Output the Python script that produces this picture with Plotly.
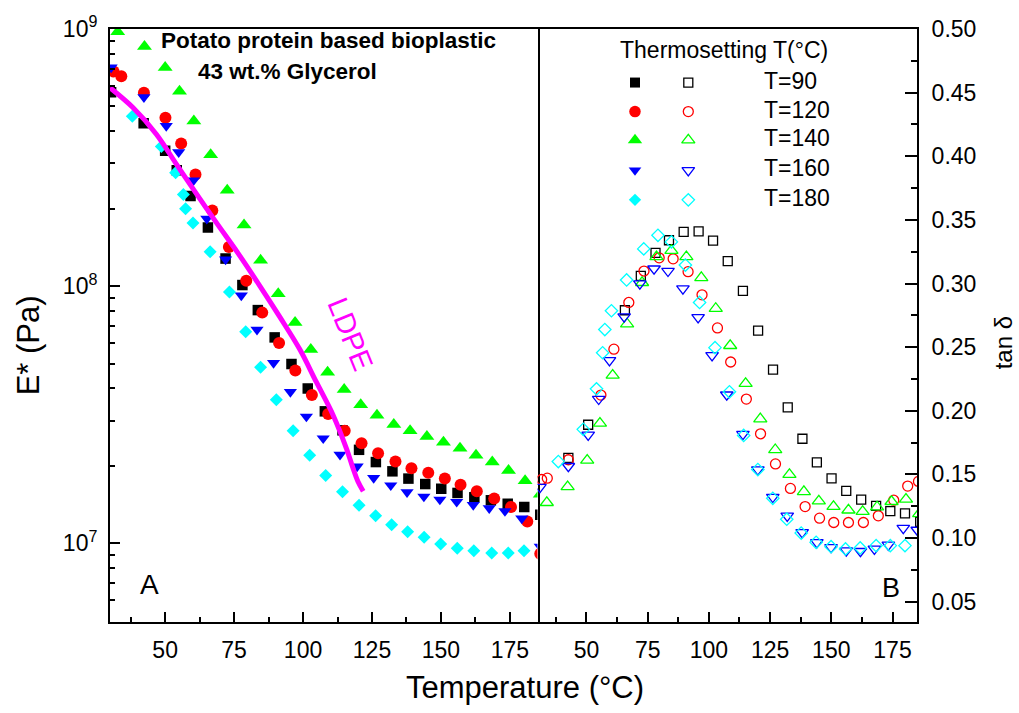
import plotly.graph_objects as go

# ---------------- Panel A: complex modulus E* (Pa) ----------------
temp_e_90 = [30.4, 42.2, 50.0, 54.2, 59.2, 65.5, 71.9, 78.0, 83.6, 89.7, 95.8, 101.7, 107.9,
             114.3, 120.3, 126.4, 132.4, 138.2, 144.3, 150.1, 156.0, 162.1, 168.1, 174.2, 180.2, 186.0]
e_90 = [5.67e8, 4.30e8, 3.36e8, 2.82e8, 2.24e8, 1.69e8, 1.28e8, 1.01e8, 8.07e7, 6.32e7, 4.98e7, 4.00e7, 3.26e7,
        2.75e7, 2.31e7, 2.07e7, 1.905e7, 1.785e7, 1.70e7, 1.63e7, 1.57e7, 1.51e7, 1.47e7, 1.425e7, 1.385e7, 1.29e7]

temp_e_120 = [31.3, 34.1, 42.3, 50.1, 55.8, 61.0, 67.1, 73.1, 79.4, 85.2, 91.3, 97.2, 103.2, 109.1,
              115.1, 121.2, 127.2, 133.5, 139.3, 145.4, 151.4, 157.1, 163.0, 169.3, 175.4, 181.3, 186.0]
e_120 = [6.84e8, 6.55e8, 5.65e8, 4.52e8, 3.59e8, 2.72e8, 1.97e8, 1.42e8, 1.05e8, 7.89e7, 6.01e7, 4.70e7, 3.77e7, 3.18e7,
         2.74e7, 2.45e7, 2.24e7, 2.08e7, 1.96e7, 1.88e7, 1.785e7, 1.69e7, 1.595e7, 1.495e7, 1.385e7, 1.215e7, 9.1e6]

temp_e_140 = [32.8, 42.5, 50.0, 55.2, 60.4, 66.5, 72.5, 78.6, 84.6, 91.0, 97.1, 102.8, 108.9,
              114.9, 120.9, 126.8, 132.9, 138.8, 144.9, 150.9, 156.9, 162.7, 168.6, 174.5, 180.5, 186.0]
e_140 = [9.76e8, 8.55e8, 7.09e8, 5.73e8, 4.39e8, 3.24e8, 2.36e8, 1.73e8, 1.26e8, 9.34e7, 7.22e7, 5.67e7, 4.63e7,
         3.96e7, 3.46e7, 3.15e7, 2.90e7, 2.74e7, 2.60e7, 2.47e7, 2.34e7, 2.20e7, 2.07e7, 1.92e7, 1.75e7, 1.55e7]

temp_e_160 = [30.4, 42.3, 50.4, 54.9, 60.3, 65.1, 71.9, 77.6, 83.3, 89.3, 95.4, 101.2, 107.3,
              113.4, 119.6, 125.6, 131.8, 137.7, 143.8, 149.6, 155.7, 161.7, 167.5, 173.2, 179.3, 186.0]
e_160 = [7.09e8, 5.43e8, 4.20e8, 3.32e8, 2.58e8, 1.83e8, 1.27e8, 9.20e7, 6.77e7, 5.03e7, 3.88e7, 3.11e7, 2.56e7,
         2.21e7, 1.99e7, 1.795e7, 1.68e7, 1.58e7, 1.52e7, 1.48e7, 1.45e7, 1.41e7, 1.37e7, 1.335e7, 1.25e7, 9.7e6]

temp_e_180 = [38.1, 48.6, 53.8, 56.6, 57.4, 60.1, 66.3, 73.3, 79.2, 84.6, 90.3, 96.4, 102.4,
              108.2, 114.3, 120.3, 126.3, 132.1, 137.9, 143.9, 149.9, 155.9, 161.9, 168.4, 174.4, 180.1]
e_180 = [4.58e8, 3.49e8, 2.76e8, 2.27e8, 2.00e8, 1.76e8, 1.36e8, 9.48e7, 6.65e7, 4.84e7, 3.62e7, 2.74e7, 2.20e7,
         1.835e7, 1.585e7, 1.405e7, 1.28e7, 1.18e7, 1.11e7, 1.055e7, 9.94e6, 9.56e6, 9.36e6, 9.17e6, 9.17e6, 9.36e6]

# LDPE reference curve
temp_ldpe = [30.0, 38.3, 46.8, 54.0, 61.3, 68.5, 76.4, 84.3, 91.5, 98.8, 104.8, 110.9, 115.7, 118.1, 119.9, 121.8]
e_ldpe = [5.91e8, 4.95e8, 3.90e8, 2.99e8, 2.29e8, 1.77e8, 1.344e8, 1.003e8, 7.61e7, 5.68e7, 4.24e7, 3.15e7,
          2.34e7, 1.96e7, 1.74e7, 1.595e7]

# ---------------- Panel B: loss tangent ----------------
temp_t_90 = [42.6, 50.7, 65.7, 72.2, 78.2, 83.7, 89.7, 95.8, 101.7, 107.7, 113.9, 120.1, 126.2,
             132.2, 138.2, 144.1, 150.1, 156.1, 162.2, 168.3, 174.1, 180.1, 186.3]
tan_90 = [0.163, 0.189, 0.279, 0.306, 0.324, 0.334, 0.3405, 0.341, 0.3337, 0.3176, 0.2942, 0.263, 0.2323,
          0.2027, 0.178, 0.1595, 0.1468, 0.1371, 0.1301, 0.1252, 0.1211, 0.1194, 0.1127]

temp_t_120 = [31.7, 34.0, 42.6, 55.9, 61.2, 67.3, 73.5, 79.7, 85.4, 91.5, 97.2, 103.5, 108.9,
              115.3, 121.1, 127.2, 133.3, 139.3, 145.2, 151.0, 157.0, 163.1, 169.2, 175.5, 181.2, 185.6]
tan_120 = [0.146, 0.147, 0.1615, 0.2123, 0.2484, 0.2851, 0.3098, 0.3202, 0.3194, 0.3093, 0.2911, 0.2651, 0.2383,
           0.2092, 0.1819, 0.1582, 0.139, 0.1247, 0.1156, 0.1122, 0.1122, 0.1122, 0.1174, 0.1297, 0.1408, 0.1445]

temp_t_140 = [33.8, 42.3, 50.3, 55.5, 60.7, 66.6, 72.7, 78.6, 84.7, 90.8, 96.9, 102.8, 108.7,
              115.0, 121.0, 127.1, 132.9, 138.8, 144.9, 150.9, 157.0, 162.8, 168.7, 174.6, 180.5, 185.9]
tan_140 = [0.1278, 0.1403, 0.1611, 0.1902, 0.2279, 0.2682, 0.3007, 0.321, 0.3259, 0.321, 0.3046, 0.2804, 0.2512,
           0.2214, 0.1936, 0.1694, 0.1499, 0.1364, 0.1291, 0.1247, 0.1219, 0.1208, 0.1244, 0.1286, 0.1304, 0.119]

temp_t_160 = [31.0, 42.6, 50.7, 55.0, 59.4, 65.4, 71.8, 77.6, 83.3, 89.4, 95.6, 101.3, 107.3,
              113.9, 120.0, 126.1, 132.0, 138.1, 144.1, 149.9, 156.1, 161.9, 167.6, 173.3, 179.4, 185.1]
tan_160 = [0.14, 0.1564, 0.1811, 0.2092, 0.2396, 0.274, 0.2999, 0.3116, 0.3098, 0.296, 0.2734, 0.2435, 0.2126,
           0.1816, 0.1538, 0.1322, 0.1174, 0.1044, 0.0966, 0.0927, 0.0901, 0.0896, 0.0914, 0.0946, 0.1078, 0.1063]

temp_t_180 = [38.5, 48.7, 54.1, 56.6, 57.5, 60.2, 66.4, 73.4, 79.2, 84.7, 90.4, 96.2, 102.5,
              108.4, 114.2, 120.0, 126.1, 131.8, 137.7, 143.8, 149.9, 155.8, 161.8, 168.3, 174.1, 180.1]
tan_180 = [0.1601, 0.1854, 0.2172, 0.2456, 0.2638, 0.2786, 0.3028, 0.3272, 0.3379, 0.3327, 0.3145, 0.2851, 0.2496,
           0.2149, 0.1806, 0.1538, 0.1312, 0.1148, 0.1039, 0.0966, 0.0932, 0.0914, 0.0922, 0.094, 0.094, 0.094]

legend_labels = ["T=90", "T=120", "T=140", "T=160", "T=180"]
e_ticks = [1e7, 1e8, 1e9]
e_ticktext = ["10<sup>7</sup>", "10<sup>8</sup>", "10<sup>9</sup>"]
tan_ticks = [0.05, 0.10, 0.15, 0.20, 0.25, 0.30, 0.35, 0.40, 0.45, 0.50]
temp_ticks = [50, 75, 100, 125, 150, 175]

# ---------------- styling ----------------
FONT = "Liberation Sans, Arial, sans-serif"
colors = ["#000000", "#ff0000", "#00ff00", "#0000ff", "#00ffff"]
symbols = ["square", "circle", "triangle-up", "triangle-down", "diamond"]
filled_sizes = [10.5, 12, 13, 11.5, 10]
open_sizes = [9, 10, 11.5, 11, 9.5]

e_series = [(temp_e_90, e_90), (temp_e_120, e_120), (temp_e_140, e_140),
            (temp_e_160, e_160), (temp_e_180, e_180)]
tan_series = [(temp_t_90, tan_90), (temp_t_120, tan_120), (temp_t_140, tan_140),
              (temp_t_160, tan_160), (temp_t_180, tan_180)]

fig = go.Figure()

for (tx, ty), c, s, sz in zip(e_series, colors, symbols, filled_sizes):
    fig.add_trace(go.Scatter(x=tx, y=ty, mode="markers", xaxis="x", yaxis="y",
                             marker=dict(symbol=s, size=sz, color=c, line=dict(width=0)),
                             showlegend=False))

fig.add_trace(go.Scatter(x=temp_ldpe, y=e_ldpe, mode="lines", xaxis="x", yaxis="y",
                         line=dict(color="#ff00ff", width=5, shape="spline", smoothing=1.0),
                         showlegend=False))

for (tx, ty), c, s, sz in zip(tan_series, colors, symbols, open_sizes):
    fig.add_trace(go.Scatter(x=tx, y=ty, mode="markers", xaxis="x2", yaxis="y2",
                             marker=dict(symbol=s + "-open", size=sz, color=c, line=dict(width=1.3, color=c)),
                             showlegend=False))

# page geometry (pixels) used to place the key and the free-standing labels
L, R, T, B = 110, 102, 24, 91
W, H = 1019, 713
pw, ph = W - L - R, H - T - B


def px_x(p):
    return (p - L) / pw


def px_y(p):
    return (H - B - p) / ph


# key: filled symbol (E*), open symbol (tan delta), label
key_rows = [78, 107.3, 136, 166.5, 196.3]
for i, lab in enumerate(legend_labels):
    yy = px_y(key_rows[i])
    fig.add_trace(go.Scatter(x=[px_x(635)], y=[yy], mode="markers", xaxis="x3", yaxis="y3",
                             marker=dict(symbol=symbols[i], size=filled_sizes[i] - 0.5, color=colors[i],
                                         line=dict(width=0)), showlegend=False))
    fig.add_trace(go.Scatter(x=[px_x(688.3)], y=[yy], mode="markers", xaxis="x3", yaxis="y3",
                             marker=dict(symbol=symbols[i] + "-open", size=open_sizes[i], color=colors[i],
                                         line=dict(width=1.3, color=colors[i])), showlegend=False))

split = (537.5 - L) / pw
axis_common = dict(showgrid=False, zeroline=False, showline=True, linecolor="black", linewidth=2,
                   ticks="inside", tickcolor="black", tickwidth=2,
                   tickfont=dict(family=FONT, size=23, color="black"))

minor_temp = dict(ticks="inside", ticklen=5, tickwidth=2, tickcolor="black",
                  tickvals=[37.5, 62.5, 87.5, 112.5, 137.5, 162.5])


def label(text, x, y, size, angle=0, color="black", xanchor="center"):
    return dict(text=text, x=px_x(x), y=px_y(y), textangle=angle, xanchor=xanchor, yanchor="middle",
                font=dict(size=size, family=FONT, color=color), showarrow=False,
                xref="paper", yref="paper")


annotations = [
    label("<b>Potato protein based bioplastic</b>", 328, 36, 22.5),
    label("<b>43 wt.% Glycerol</b>", 287, 67, 22.5),
    label("LDPE", 350, 332, 29, angle=68, color="#ff00ff"),
    label("A", 149, 584, 28),
    label("B", 891, 588, 27),
    label("Thermosetting T(°C)", 724, 45, 23),
    label("Temperature (°C)", 525, 688, 31),
    label("E* (Pa)", 28, 343, 31, angle=-90),
    label("tan δ", 1003, 341, 24, angle=-90),
]
for i, lab in enumerate(legend_labels):
    annotations.append(label(lab, 762, key_rows[i] - 2, 23, xanchor="left"))

fig.update_layout(
    width=W, height=H, autosize=False,
    margin=dict(l=L, r=R, t=T, b=B, pad=0),
    paper_bgcolor="white", plot_bgcolor="rgba(0,0,0,0)",
    font=dict(family=FONT, color="black"),
    showlegend=False,
    xaxis=dict(domain=[0, split], range=[30, 185], anchor="y", tickvals=temp_ticks, ticklen=10,
               mirror=True, minor=minor_temp, ticklabelstandoff=6, **axis_common),
    yaxis=dict(domain=[0, 1], type="log", range=[6.694, 9.0], anchor="x", tickvals=e_ticks,
               ticktext=e_ticktext, ticklen=10, mirror=True, ticklabelstandoff=6,
               minor=dict(ticks="inside", ticklen=5, tickwidth=2, tickcolor="black",
                          tickvals=[6e6, 7e6, 8e6, 9e6] + [k * 1e7 for k in range(2, 10)]
                          + [k * 1e8 for k in range(2, 10)]),
               **axis_common),
    xaxis2=dict(domain=[split, 1], range=[30, 185], anchor="y2", tickvals=temp_ticks, ticklen=10,
                mirror=True, minor=minor_temp, ticklabelstandoff=6, **axis_common),
    yaxis2=dict(domain=[0, 1], range=[0.034, 0.5], anchor="x2", side="right", tickvals=tan_ticks,
                ticktext=["%.2f" % v for v in tan_ticks], ticklen=12, mirror=False, ticklabelstandoff=8,
                minor=dict(ticks="inside", ticklen=6, tickwidth=2, tickcolor="black",
                           tickvals=[0.075 + 0.05 * k for k in range(9)]),
                **axis_common),
    xaxis3=dict(domain=[0, 1], range=[0, 1], anchor="y3", visible=False, fixedrange=True),
    yaxis3=dict(domain=[0, 1], range=[0, 1], anchor="x3", visible=False, fixedrange=True),
    annotations=annotations,
)

fig.write_html("out.html")
